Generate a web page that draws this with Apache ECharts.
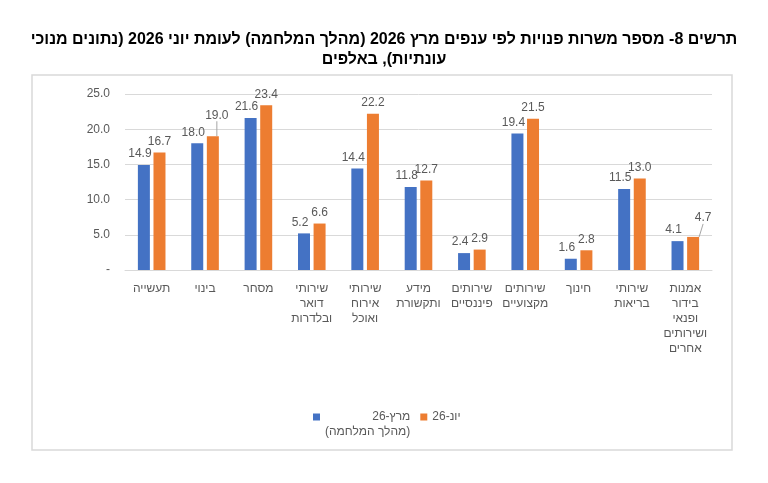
<!DOCTYPE html>
<html>
<head>
<meta charset="utf-8">
<script src="https://cdn.jsdelivr.net/npm/echarts@6/dist/echarts.min.js"></script>
<style>
  html, body { margin: 0; padding: 0; background: #fff; }
  #chart { width: 768px; height: 483px; direction: rtl; }
</style>
</head>
<body>
<div id="chart"></div>
<script>
// ענפים
const categories = [
  "תעשייה",
  "בינוי",
  "מסחר",
  "שירותי\nדואר\nובלדרות",
  "שירותי\nאירוח\nואוכל",
  "מידע\nותקשורת",
  "שירותים\nפיננסיים",
  "שירותים\nמקצועיים",
  "חינוך",
  "שירותי\nבריאות",
  "אמנות\nבידור\nופנאי\nושירותים\nאחרים"
]
// משרות פנויות, באלפים
const marchValues = [14.9, 18.0, 21.6, 5.2, 14.4, 11.8, 2.4, 19.4, 1.6, 11.5, 4.1]
const juneValues = [16.7, 19.0, 23.4, 6.6, 22.2, 12.7, 2.9, 21.5, 2.8, 13.0, 4.7]
const seriesNames = ["מרץ-26", "יונ-26"]
const marchNote = "(מהלך המלחמה)"
const yTicks = [0, 5, 10, 15, 20, 25]
// תוויות עם קו מוביל
const movedLabels = [1, 10]

const textColor = "#595959"
const gridColor = "#D9D9D9"
const font = "Liberation Sans, Arial, sans-serif"

const chart = echarts.init(document.getElementById("chart"), null, { renderer: "canvas" })

const juneData = juneValues.map((v, i) => ({
  value: v,
  labelLine: { show: movedLabels.includes(i) }
}))

chart.setOption({
  animation: false,
  backgroundColor: "#fff",
  title: {
    text: "תרשים 8- מספר משרות פנויות לפי ענפים מרץ 2026 (מהלך המלחמה) לעומת יוני 2026 (נתונים מנוכי\nעונתיות), באלפים",
    left: "center",
    top: 25,
    textStyle: {
      fontFamily: font,
      fontSize: 16,
      fontWeight: "bold",
      color: "#000",
      lineHeight: 20,
      align: "center"
    }
  },
  graphic: [
    {
      type: "rect",
      shape: { x: 32, y: 75, width: 700, height: 375 },
      style: { fill: null, stroke: gridColor, lineWidth: 1.5 },
      silent: true,
      z: -1
    }
  ],
  legend: {
    left: 308,
    top: 406,
    itemWidth: 7,
    itemHeight: 7,
    itemGap: 10,
    icon: "rect",
    data: [
      {
        name: seriesNames[0],
        textStyle: { padding: [15, 0, 0, 0] }
      },
      { name: seriesNames[1] }
    ],
    formatter: function (name) {
      if (name === seriesNames[0]) {
        return "{r|" + name + "}\n{r|" + marchNote + "}"
      }
      return name
    },
    textStyle: {
      fontFamily: font,
      fontSize: 12,
      color: textColor,
      rich: {
        r: { align: "right", fontSize: 12, color: textColor, lineHeight: 15 }
      }
    }
  },
  grid: {
    left: 125,
    right: 56,
    top: 94,
    bottom: 213
  },
  xAxis: {
    type: "category",
    data: categories,
    axisLine: { lineStyle: { color: gridColor, width: 1 } },
    axisTick: { show: false },
    axisLabel: {
      interval: 0,
      margin: 11,
      color: textColor,
      fontFamily: font,
      fontSize: 12,
      lineHeight: 15
    }
  },
  yAxis: {
    type: "value",
    min: yTicks[0],
    max: yTicks[yTicks.length - 1],
    interval: yTicks[1] - yTicks[0],
    axisLine: { show: false },
    axisTick: { show: false },
    splitLine: { lineStyle: { color: gridColor, width: 1 } },
    axisLabel: {
      margin: 15,
      color: textColor,
      fontFamily: font,
      fontSize: 12,
      formatter: function (v) { return v === 0 ? "-" : v.toFixed(1) }
    }
  },
  series: [
    {
      name: seriesNames[0],
      type: "bar",
      data: marchValues,
      barWidth: 12,
      barGap: "30%",
      itemStyle: { color: "#4472C4" },
      label: {
        show: true,
        position: "top",
        distance: 5,
        offset: [-4, 0],
        color: textColor,
        fontFamily: font,
        fontSize: 12,
        formatter: function (p) { return p.value.toFixed(1) }
      }
    },
    {
      name: seriesNames[1],
      type: "bar",
      data: juneData,
      barWidth: 12,
      barGap: "30%",
      itemStyle: { color: "#ED7D31" },
      label: {
        show: true,
        position: "top",
        distance: 5,
        offset: [3, 0],
        color: textColor,
        fontFamily: font,
        fontSize: 12,
        formatter: function (p) { return p.value.toFixed(1) }
      },
      labelLine: {
        show: false,
        lineStyle: { color: "#A6A6A6", width: 1 }
      },
      labelLayout: function (params) {
        if (params.dataIndex === movedLabels[0]) return { dx: 4, dy: -10 }
        if (params.dataIndex === movedLabels[1]) return { dx: 10, dy: -8 }
        return {}
      }
    }
  ]
})
</script>
</body>
</html>
